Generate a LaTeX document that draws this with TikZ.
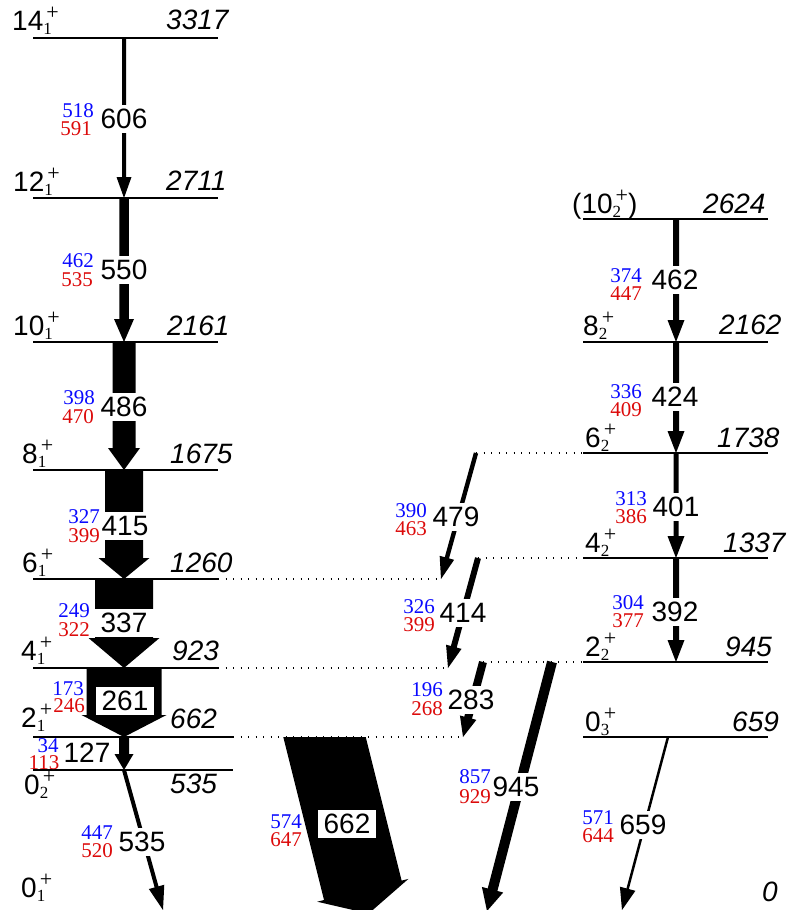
\documentclass[tikz,border=0pt]{standalone}
\usepackage{fontspec}
\setmainfont{Liberation Sans}
\newfontfamily\serf{Liberation Serif}
\usetikzlibrary{calc}
\definecolor{myblue}{RGB}{10,10,255}
\definecolor{myred}{RGB}{220,10,10}
\newcommand\spinlab[2]{#1\rlap{\raisebox{-4pt}{\fontsize{17}{17}\selectfont\serf #2}}\hspace{3pt}\raisebox{10.5pt}{\fontsize{22}{22}\selectfont\serf +}}
\newcommand\garrow[5]{%
  \coordinate (nk) at ($(#2)!#5!(#1)$);
  \fill ($(#1)!#3!90:(#2)$) -- ($(nk)!#3!90:(#2)$) -- ($(nk)!#4!90:(#2)$) -- (#2)
     -- ($(nk)!#4!-90:(#2)$) -- ($(nk)!#3!-90:(#2)$) -- ($(#1)!#3!-90:(#2)$) -- cycle;}
\tikzset{
  lev/.style={line width=1.1pt},
  dots/.style={line width=1.1pt, dash pattern=on 1.3pt off 6.2pt},
  glab/.style={font={\fontsize{28}{28}\selectfont}, fill=white, inner xsep=2pt, inner ysep=4pt},
  boxlab/.style={glab, inner xsep=6pt, inner ysep=4pt},
  bnum/.style={font={\fontsize{21}{21}\selectfont\serf}, text=myblue, inner sep=0pt},
  rnum/.style={font={\fontsize{21}{21}\selectfont\serf}, text=myred, inner sep=0pt},
  spinl/.style={font={\fontsize{28}{28}\selectfont}, anchor=base west, inner sep=0pt},
  enl/.style={font={\fontsize{28}{28}\selectfont\itshape}, anchor=base west, inner sep=0pt},
}
\begin{document}
\begin{tikzpicture}[x=1pt,y=-1pt]
\useasboundingbox (0,0) rectangle (787,910);
\clip (0,0) rectangle (787,910);
% ---- level coordinates
\coordinate (L14) at (124,38);
\coordinate (L12) at (124,198);
\coordinate (L10) at (124,342);
\coordinate (L8) at (124,470);
\coordinate (L6) at (124,579);
\coordinate (L4) at (124,668);
\coordinate (L2) at (124,737);
\coordinate (L02) at (124,770);
\coordinate (G535) at (163,910);
\coordinate (R10) at (676,219);
\coordinate (R8) at (676,342);
\coordinate (R6) at (676,453);
\coordinate (R4) at (676,558);
\coordinate (R2) at (676,662);
\coordinate (s479) at (476,453);
\coordinate (t479) at (441,579);
\coordinate (s414) at (478,558);
\coordinate (t414) at (448,668);
\coordinate (s283) at (483,662);
\coordinate (t283) at (463,737);
\coordinate (s945) at (552,662);
\coordinate (t945) at (487,911);
\coordinate (s659) at (668,737);
\coordinate (t659) at (622,910);
% ---- level lines
\foreach \y in {38,198,342,470,579,668} \draw[lev] (33,\y) -- (218,\y);
\foreach \y in {737,770} \draw[lev] (33,\y) -- (233,\y);
\foreach \y in {219,342,453,558,662,737} \draw[lev] (583,\y) -- (768,\y);
% ---- dotted links
\draw[dots] (218,579) -- (t479);
\draw[dots] (218,668) -- (t414);
\draw[dots] (233,737) -- (t283);
\draw[dots] (s479) -- (583,453);
\draw[dots] (s414) -- (583,558);
\draw[dots] (s283) -- (583,662);
% ---- transitions
\garrow{L14}{L12}{2pt}{7.5pt}{21pt}
\garrow{L12}{L10}{4.75pt}{10pt}{23pt}
\garrow{L10}{L8}{11.5pt}{16pt}{22pt}
\garrow{L8}{L6}{19pt}{25.5pt}{21pt}
\garrow{L6}{L4}{29pt}{35.5pt}{30pt}
\garrow{L4}{L2}{37.5pt}{42.5pt}{22pt}
\garrow{L2}{L02}{5pt}{9.5pt}{16pt}
\garrow{L02}{G535}{2pt}{8pt}{24pt}
\fill (283.3,737) -- (365.7,737) -- (401.6,880.6) -- (408.4,878.9) -- (368.6,913.6)
   -- (317.2,901.7) -- (324.0,900.0) -- cycle;
\garrow{s479}{t479}{2.2pt}{7.5pt}{22pt}
\garrow{s414}{t414}{3pt}{8pt}{22pt}
\garrow{s283}{t283}{4pt}{8.5pt}{20pt}
\garrow{s945}{t945}{5pt}{11pt}{22pt}
\garrow{R10}{R8}{3pt}{8.5pt}{22pt}
\garrow{R8}{R6}{3pt}{8.5pt}{22pt}
\garrow{R6}{R4}{2.5pt}{8.5pt}{22pt}
\garrow{R4}{R2}{3pt}{8.5pt}{22pt}
\garrow{s659}{t659}{1.25pt}{8pt}{22pt}
% ---- transition labels
\node[glab] (e606) at (124,119) {606};
\node[glab] (e550) at (124,270) {550};
\node[glab] (e486) at (124,407) {486};
\node[glab] (e415) at (125,526) {415};
\node[glab, minimum width=62pt] (e337) at (124,623) {337};
\node[boxlab] (e261) at (125,701) {261};
\node[glab, fill=none] (e127) at (87,753) {127};
\node[glab] (e535) at (142,842) {535};
\node[boxlab] (e662) at (347,824) {662};
\node[glab] (e479) at (456,517) {479};
\node[glab] (e414) at (463,613) {414};
\node[glab] (e283) at (471,700) {283};
\node[glab] (e945) at (516,787) {945};
\node[glab] (e462) at (675,280) {462};
\node[glab] (e424) at (675,397) {424};
\node[glab] (e401) at (676,507) {401};
\node[glab] (e392) at (675,612) {392};
\node[glab] (e659) at (643,825) {659};
% ---- blue / red numbers
\node[bnum] (b606) at (78,111) {518};   \node[rnum] (r606) at (76,129) {591};
\node[bnum] (b550) at (78,261) {462};   \node[rnum] (r550) at (77,280) {535};
\node[bnum] (b486) at (79,398) {398};   \node[rnum] (r486) at (78,417) {470};
\node[bnum] (b415) at (84,517) {327};   \node[rnum] (r415) at (84,536) {399};
\node[bnum] (b337) at (74,611) {249};   \node[rnum] (r337) at (74,630) {322};
\node[bnum] (b261) at (68,689) {173};   \node[rnum] (r261) at (69,706) {246};
\node[bnum] (b127) at (48,746) {34};    \node[rnum] (r127) at (44,763) {113};
\node[bnum] (b535) at (97,833) {447};   \node[rnum] (r535) at (97,851) {520};
\node[bnum] (b662) at (286,822) {574};  \node[rnum] (r662) at (286,840) {647};
\node[bnum] (b479) at (411,511) {390};  \node[rnum] (r479) at (411,529) {463};
\node[bnum] (b414) at (419,607) {326};  \node[rnum] (r414) at (419,625) {399};
\node[bnum] (b283) at (427,690) {196};  \node[rnum] (r283) at (427,709) {268};
\node[bnum] (b945) at (475,777) {857};  \node[rnum] (r945) at (475,797) {929};
\node[bnum] (b462) at (626,276) {374};  \node[rnum] (r462) at (626,294) {447};
\node[bnum] (b424) at (626,392) {336};  \node[rnum] (r424) at (626,410) {409};
\node[bnum] (b401) at (631,499) {313};  \node[rnum] (r401) at (631,517) {386};
\node[bnum] (b392) at (628,603) {304};  \node[rnum] (r392) at (628,621) {377};
\node[bnum] (b659) at (598,818) {571};  \node[rnum] (r659) at (598,836) {644};
% ---- level labels (left)
\node[spinl] (j14) at (12,30) {\spinlab{14}{1}};
\node[enl] (x14) at (166,29) {3317};
\node[spinl] (j12) at (13,191) {\spinlab{12}{1}};
\node[enl] (x12) at (166,190) {2711};
\node[spinl] (j10) at (13,335) {\spinlab{10}{1}};
\node[enl] (x10) at (167,335) {2161};
\node[spinl] (j8) at (22,463) {\spinlab{8}{1}};
\node[enl] (x8) at (170,463) {1675};
\node[spinl] (j6) at (22,572) {\spinlab{6}{1}};
\node[enl] (x6) at (170,572) {1260};
\node[spinl] (j4) at (21,660) {\spinlab{4}{1}};
\node[enl] (x4) at (172,660) {923};
\node[spinl] (j2) at (21,727) {\spinlab{2}{1}};
\node[enl] (x2) at (170,728) {662};
\node[spinl] (j02) at (24,794) {\spinlab{0}{2}};
\node[enl] (x02) at (170,793) {535};
\node[spinl] (j01) at (21,897) {\spinlab{0}{1}};
% ---- level labels (right)
\node[spinl] (k10) at (572,213) {(\spinlab{10}{2})};
\node[enl] (y10) at (703,213) {2624};
\node[spinl] (k8) at (583,335) {\spinlab{8}{2}};
\node[enl] (y8) at (719,334) {2162};
\node[spinl] (k6) at (585,447) {\spinlab{6}{2}};
\node[enl] (y6) at (717,447) {1738};
\node[spinl] (k4) at (585,552) {\spinlab{4}{2}};
\node[enl] (y4) at (723,552) {1337};
\node[spinl] (k2) at (585,656) {\spinlab{2}{2}};
\node[enl] (y2) at (725,656) {945};
\node[spinl] (k03) at (585,731) {\spinlab{0}{3}};
\node[enl] (y03) at (732,731) {659};
\node[enl] (y0) at (762,901) {0};
\end{tikzpicture}
\end{document}
